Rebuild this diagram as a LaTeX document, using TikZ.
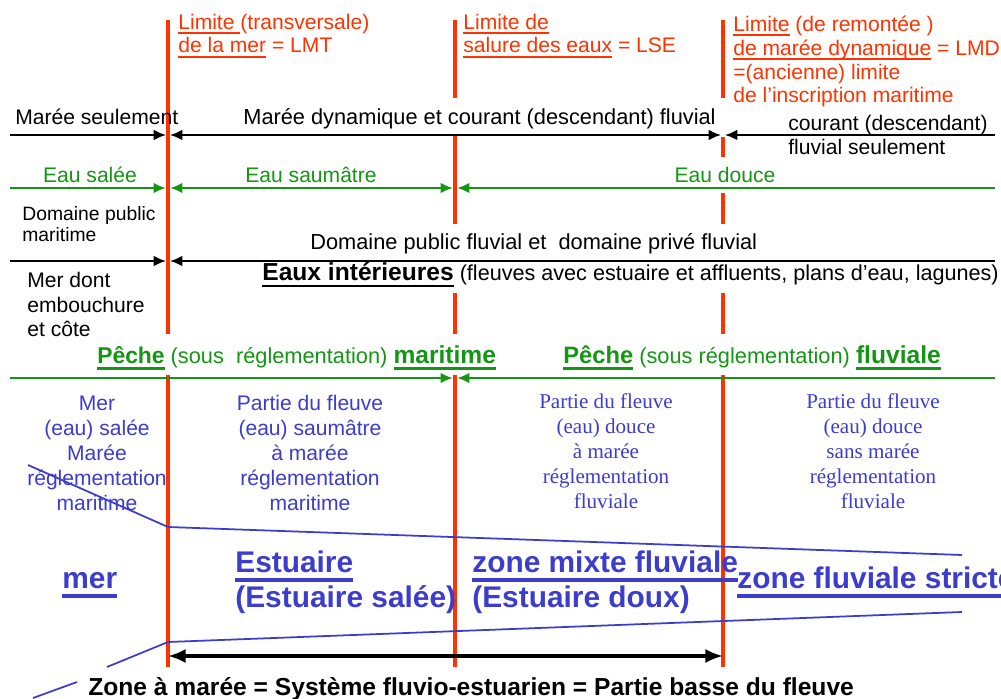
\documentclass[tikz,border=0pt]{standalone}
\usepackage{fontspec}
\setmainfont{Liberation Sans}
\newfontfamily\serifcol{Liberation Serif}
\usetikzlibrary{arrows.meta,calc}
\definecolor{lim}{RGB}{255,51,0}
\definecolor{vert}{RGB}{20,150,20}
\definecolor{bleu}{RGB}{60,60,205}
% underline: thickness, drop below baseline, text
\newcommand{\undl}[3]{\setbox0\hbox{#3}\rlap{\raisebox{-#2}{\rule{\wd0}{#1}}}\box0\relax}
\tikzset{limite/.style={lim,line width=2.8pt},
  fln/.style={line width=1.1pt},flv/.style={vert,line width=1.7pt},
  txt/.style={inner sep=0pt,anchor=base west,font=\fontsize{12}{13.6}\selectfont},
  rouge/.style={txt,lim,align=left},
  colb/.style={inner sep=0pt,anchor=base,bleu,align=center,font=\fontsize{12}{14.2}\selectfont},
  grosb/.style={inner sep=0pt,anchor=base west,bleu,align=left,font=\bfseries\fontsize{17}{19.9}\selectfont}}
\begin{document}
\begin{tikzpicture}[x=0.02cm,y=-0.02cm,>={Latex[length=7pt,width=6pt]}]
\useasboundingbox (0,0) rectangle (1001,699);\clip (0,0) rectangle (1001,699);
\coordinate (lmt) at (168,0);\coordinate (lse) at (455,0);\coordinate (lmd) at (723,0);
% limites
\draw[limite] (lmt|-0,20)--(lmt|-0,334) (lmt|-0,375)--(lmt|-0,667);
\draw[limite] (lse|-0,20)--(lse|-0,98) (lse|-0,136)--(lse|-0,224) (lse|-0,293)--(lse|-0,334) (lse|-0,375)--(lse|-0,667);
\draw[limite] (lmd|-0,20)--(lmd|-0,98) (lmd|-0,137)--(lmd|-0,157) (lmd|-0,193)--(lmd|-0,224) (lmd|-0,293)--(lmd|-0,334) (lmd|-0,375)--(lmd|-0,667);
\node[rouge](lmtlab) at (178,53){\undl{1.2pt}{2.9pt}{Limite }(transversale)\\\undl{1.2pt}{2.9pt}{de la mer} = LMT};
\node[rouge](lselab) at (463,53){\undl{1.2pt}{2.9pt}{Limite de}\\\undl{1.2pt}{2.9pt}{salure des eaux} = LSE};
\node[rouge](lmdlab) at (733,103){\undl{1.2pt}{2.9pt}{Limite} (de remontée )\\\undl{1.2pt}{2.9pt}{de marée dynamique} = LMD\\=(ancienne) limite\\de l'inscription maritime};
% fleches
\draw[fln,->] (10,135)--($(lmt|-0,135)-(2,0)$);\draw[fln,<->] ($(lmt|-0,135)+(2,0)$)--($(lmd|-0,135)-(2,0)$);\draw[fln,<-] ($(lmd|-0,135)+(2,0)$)--(995,135);
\draw[flv,->] (10,188)--($(lmt|-0,188)-(2,0)$);\draw[flv,<->] ($(lmt|-0,188)+(2,0)$)--($(lse|-0,188)-(2,0)$);\draw[flv,<-] ($(lse|-0,188)+(2,0)$)--(995,188);
\draw[fln,->] (10,261)--($(lmt|-0,261)-(2,0)$);\draw[fln,<-] ($(lmt|-0,261)+(2,0)$)--(995,261);
\draw[flv,->] (10,378)--($(lse|-0,378)-(2,0)$);\draw[flv,<-] ($(lse|-0,378)+(2,0)$)--(995,378);
\node[txt](mseul) at (15,125){Marée seulement};\node[txt,font=\fontsize{12.4}{14}\selectfont](mdyn) at (243,125){Marée dynamique et courant (descendant) fluvial};
\node[txt,align=left,font=\fontsize{12}{14.2}\selectfont](cour) at (788,155){courant (descendant)\\fluvial seulement};
\node[txt,vert,anchor=base](salee) at (90,183){Eau salée};\node[txt,vert,anchor=base](saum) at (311,183){Eau saumâtre};\node[txt,vert,anchor=base](douce) at (725,183){Eau douce};
\node[txt,align=left,font=\fontsize{11}{12.5}\selectfont](dpm) at (22,242){Domaine public\\maritime};
\node[txt,font=\fontsize{12.4}{14}\selectfont](dpf) at (310,250){Domaine public fluvial et \ domaine privé fluvial};
\node[txt,font=\fontsize{12.3}{14}\selectfont](eauxint) at (262,281){\undl{1.2pt}{3.4pt}{\bfseries\fontsize{14}{16}\selectfont Eaux intérieures} (fleuves avec estuaire et affluents, plans d'eau, lagunes)};
\node[txt,align=left,font=\fontsize{12}{14.2}\selectfont](merdont) at (27,337){Mer dont\\embouchure\\et côte};
\node[txt,vert,font=\fontsize{12.4}{14}\selectfont](pmar) at (97,363){\undl{1.7pt}{3.7pt}{\bfseries\fontsize{13}{15}\selectfont Pêche} (sous \ réglementation) \undl{1.7pt}{3.7pt}{\bfseries\fontsize{14}{15}\selectfont maritime}};
\node[txt,vert,font=\fontsize{12.4}{14}\selectfont](pfluv) at (563,363){\undl{1.7pt}{3.7pt}{\bfseries\fontsize{13.5}{15}\selectfont Pêche} (sous réglementation) \undl{1.7pt}{3.7pt}{\bfseries\fontsize{14}{15}\selectfont fluviale}};
% colonnes
\node[colb](col1) at (97,510){Mer\\(eau) salée\\Marée\\réglementation\\maritime};
\node[colb](col2) at (310,510){Partie du fleuve\\(eau) saumâtre\\à marée\\réglementation\\maritime};
\node[colb,font=\serifcol\fontsize{12}{14.2}\selectfont](col3) at (606,508){Partie du fleuve\\(eau) douce\\à marée\\réglementation\\fluviale};
\node[colb,font=\serifcol\fontsize{12}{14.2}\selectfont](col4) at (873,508){Partie du fleuve\\(eau) douce\\sans marée\\réglementation\\fluviale};
\draw[bleu,line width=1pt] (28,465)--(lmt|-0,527)--(962,555);
\draw[bleu,line width=1pt] (33,698)--(77,682) (107,667)--(lmt|-0,642)--(962,612);
\node[grosb](mer) at (62,588){\undl{2.3pt}{5.5pt}{mer}};
\node[grosb](estu) at (235,607){\undl{2.3pt}{5.5pt}{Estuaire}\\(Estuaire salée)};
\node[grosb](mixte) at (472,607){\undl{2.3pt}{5.5pt}{zone mixte fluviale}\\(Estuaire doux)};
\node[grosb](strict) at (737,588){\undl{2.3pt}{5.5pt}{zone fluviale stricte}};
\draw[line width=1.8pt,<->,>={Latex[length=10pt,width=8pt]}] (lmt|-0,656)--(lmd|-0,656);
\node[txt,font=\bfseries\fontsize{14}{16}\selectfont](zmar) at (88,695){\undl{0.8pt}{3pt}{Zone à marée = Système fluvio-estuarien = Partie basse du fleuve}};
\end{tikzpicture}
\end{document}
